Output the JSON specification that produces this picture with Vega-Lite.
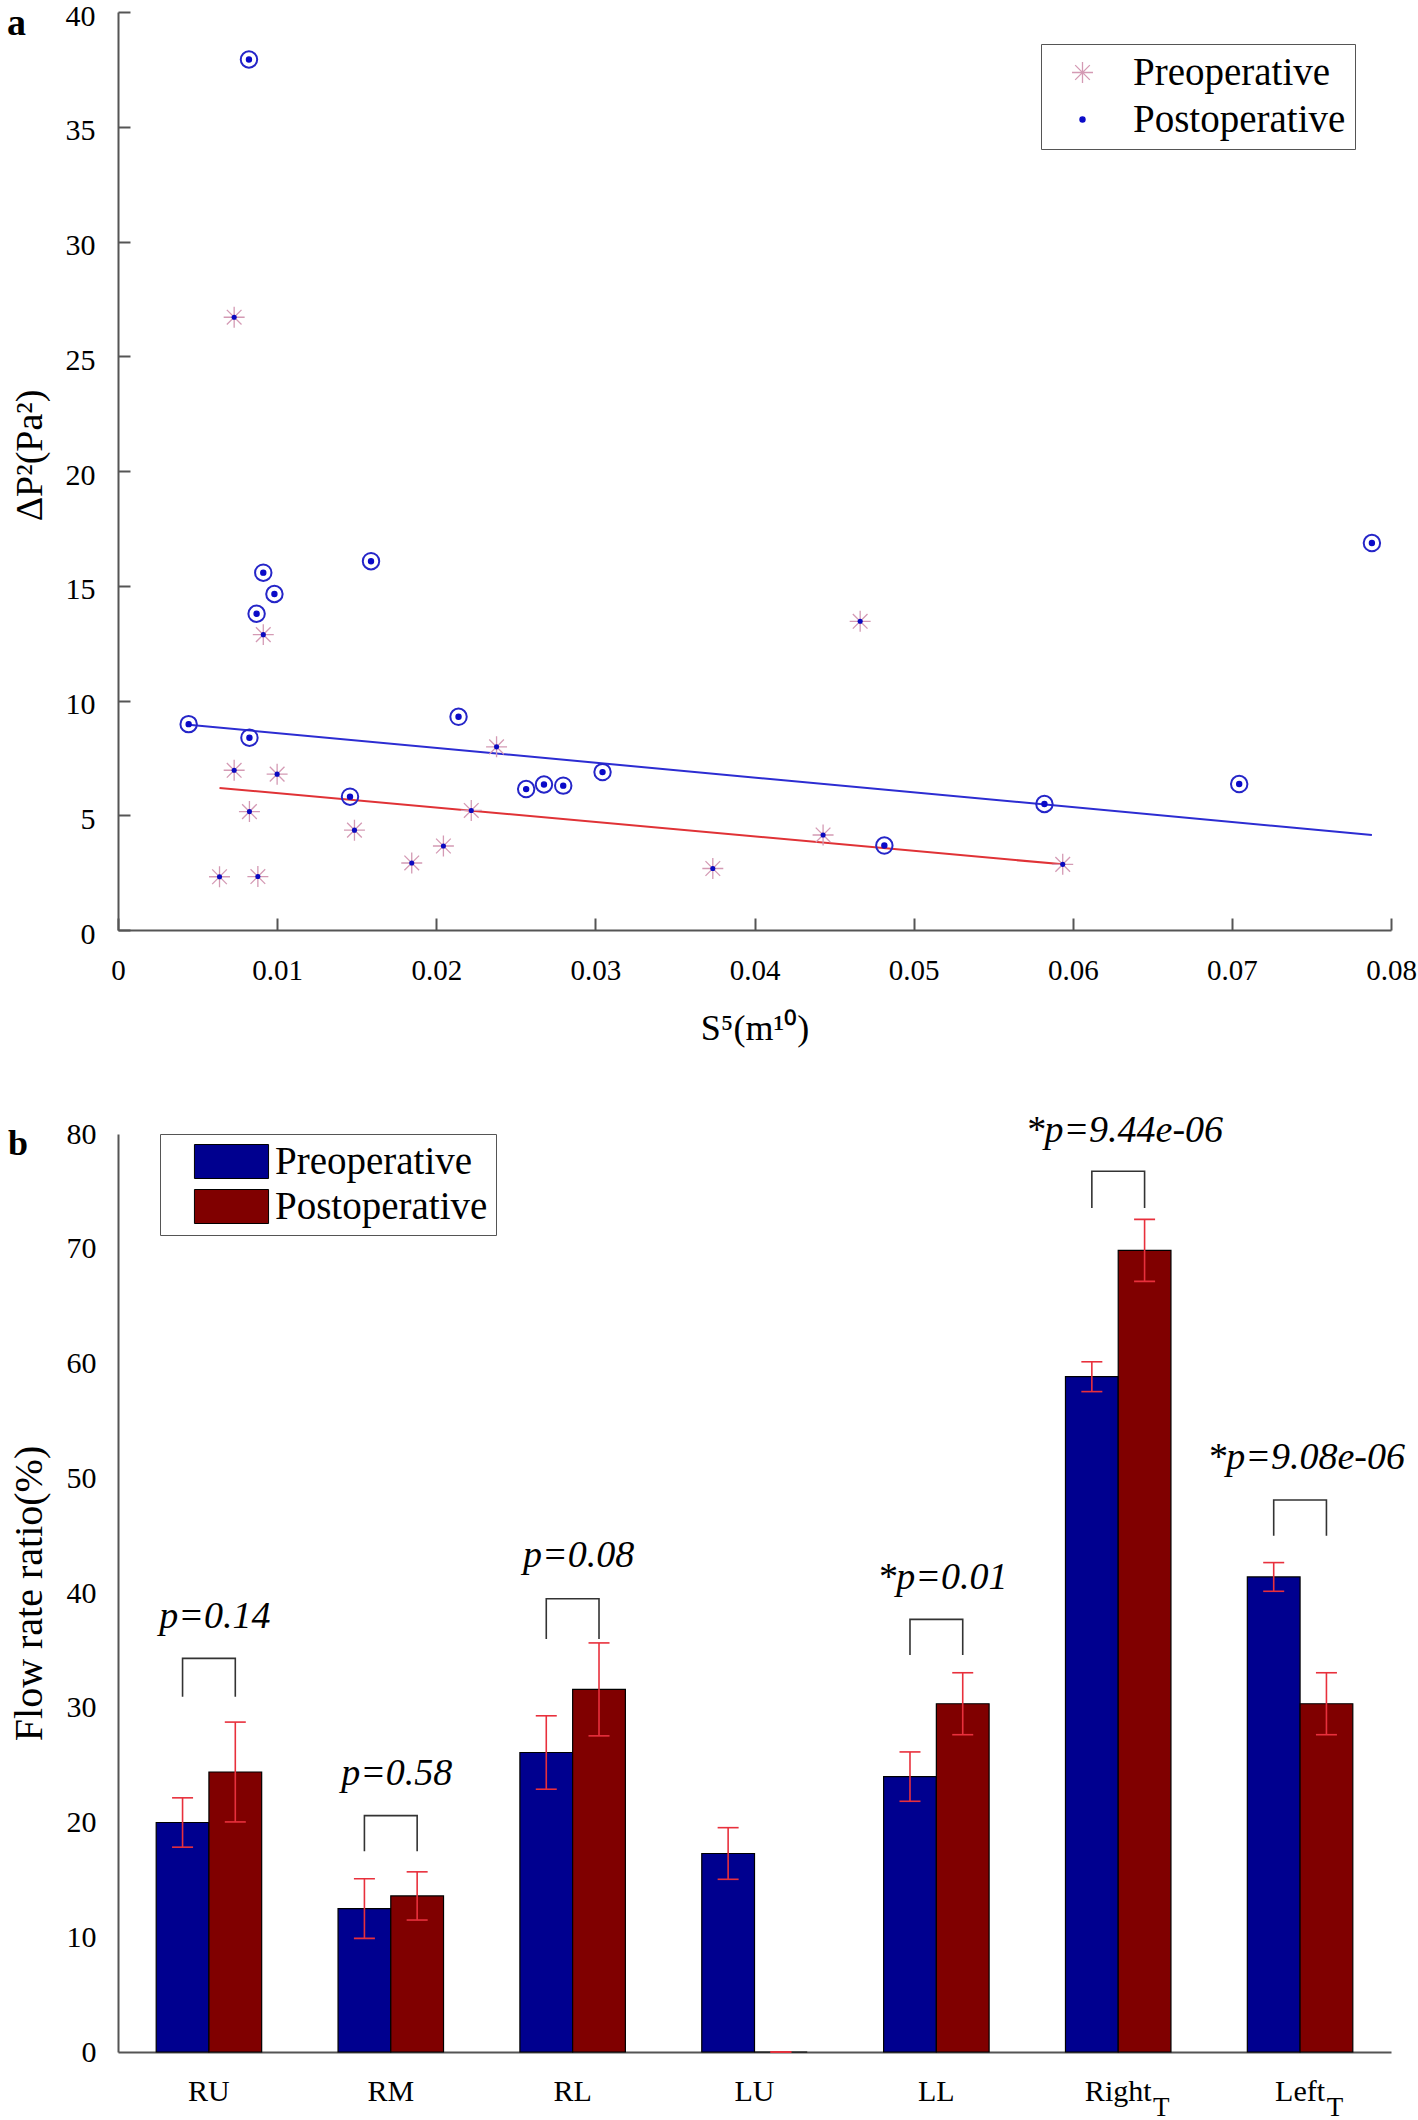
{
  "$schema": "https://vega.github.io/schema/vega-lite/v6.json",
  "background": "white",
  "autosize": {"type": "pad"},
  "padding": {"left": 7, "top": 1, "right": 5, "bottom": 14},
  "bounds": "flush",
  "spacing": 204,
  "config": {
    "font": "Liberation Serif",
    "view": {"stroke": null},
    "axis": {
      "domainColor": "#555", "domainWidth": 2, "tickColor": "#555", "tickWidth": 2,
      "labelColor": "black", "titleColor": "black", "grid": false,
      "labelFont": "Liberation Serif", "titleFont": "Liberation Serif", "titleFontWeight": "normal"
    },
    "legend": {"labelFont": "Liberation Serif", "labelColor": "black", "labelLimit": 500}
  },
  "resolve": {
    "scale": {"color": "independent", "fill": "independent", "stroke": "independent", "shape": "independent", "size": "independent"},
    "legend": {"color": "independent", "fill": "independent", "stroke": "independent", "shape": "independent", "size": "independent"}
  },
  "vconcat": [
    {
      "width": 1273,
      "height": 918,
      "title": {"text": "a", "anchor": "start", "frame": "group", "orient": "top", "offset": 0, "baseline": "alphabetic", "dx": -111, "dy": 72, "fontSize": 38, "fontWeight": "bold", "font": "Liberation Serif", "color": "black"},
      "data": {"values": [
        {"s5": 0.0073, "dp2": 26.7, "group": "Preoperative"},
        {"s5": 0.00913, "dp2": 12.87, "group": "Preoperative"},
        {"s5": 0.0073, "dp2": 6.96, "group": "Preoperative"},
        {"s5": 0.0100, "dp2": 6.79, "group": "Preoperative"},
        {"s5": 0.00826, "dp2": 5.16, "group": "Preoperative"},
        {"s5": 0.01486, "dp2": 4.35, "group": "Preoperative"},
        {"s5": 0.00638, "dp2": 2.32, "group": "Preoperative"},
        {"s5": 0.00879, "dp2": 2.33, "group": "Preoperative"},
        {"s5": 0.01846, "dp2": 2.92, "group": "Preoperative"},
        {"s5": 0.02045, "dp2": 3.66, "group": "Preoperative"},
        {"s5": 0.0222, "dp2": 5.21, "group": "Preoperative"},
        {"s5": 0.02379, "dp2": 7.98, "group": "Preoperative"},
        {"s5": 0.04664, "dp2": 13.45, "group": "Preoperative"},
        {"s5": 0.04431, "dp2": 4.14, "group": "Preoperative"},
        {"s5": 0.03738, "dp2": 2.68, "group": "Preoperative"},
        {"s5": 0.05937, "dp2": 2.86, "group": "Preoperative"},
        {"s5": 0.00823, "dp2": 37.93, "group": "Postoperative"},
        {"s5": 0.00913, "dp2": 15.57, "group": "Postoperative"},
        {"s5": 0.00983, "dp2": 14.64, "group": "Postoperative"},
        {"s5": 0.00871, "dp2": 13.78, "group": "Postoperative"},
        {"s5": 0.0159, "dp2": 16.07, "group": "Postoperative"},
        {"s5": 0.00444, "dp2": 8.97, "group": "Postoperative"},
        {"s5": 0.00826, "dp2": 8.38, "group": "Postoperative"},
        {"s5": 0.0214, "dp2": 9.29, "group": "Postoperative"},
        {"s5": 0.01458, "dp2": 5.81, "group": "Postoperative"},
        {"s5": 0.02565, "dp2": 6.14, "group": "Postoperative"},
        {"s5": 0.02677, "dp2": 6.34, "group": "Postoperative"},
        {"s5": 0.02798, "dp2": 6.29, "group": "Postoperative"},
        {"s5": 0.03045, "dp2": 6.88, "group": "Postoperative"},
        {"s5": 0.0788, "dp2": 16.86, "group": "Postoperative"},
        {"s5": 0.07046, "dp2": 6.36, "group": "Postoperative"},
        {"s5": 0.05822, "dp2": 5.49, "group": "Postoperative"},
        {"s5": 0.04816, "dp2": 3.68, "group": "Postoperative"}
      ]},
      "encoding": {
        "x": {"field": "s5", "type": "quantitative",
          "scale": {"domain": [0, 0.08], "nice": false, "zero": false},
          "axis": {"title": "S⁵(m¹⁰)", "values": [0, 0.01, 0.02, 0.03, 0.04, 0.05, 0.06, 0.07, 0.08], "format": ".2~f", "tickSize": -12, "labelPadding": 38, "labelFont": "Liberation Serif", "labelFontSize": 29, "titleFontSize": 36, "titlePadding": 26, "labelFlush": false}},
        "y": {"field": "dp2", "type": "quantitative",
          "scale": {"domain": [0, 40], "nice": false},
          "axis": {"title": "ΔP²(Pa²)", "values": [0, 5, 10, 15, 20, 25, 30, 35, 40], "tickSize": -12, "labelPadding": 35, "labelOffset": 4, "labelFont": "Liberation Serif", "labelFontSize": 30, "titleFontSize": 38, "titlePadding": 16, "titleY": 443}}
      },
      "layer": [
        {
          "data": {"values": [{"s5": 0.00444, "dp2": 8.94}, {"s5": 0.0788, "dp2": 4.14}]},
          "mark": {"type": "line", "color": "#2c2cd2", "strokeWidth": 2}
        },
        {
          "data": {"values": [{"s5": 0.00638, "dp2": 6.19}, {"s5": 0.05937, "dp2": 2.86}]},
          "mark": {"type": "line", "color": "#e03236", "strokeWidth": 2}
        },
        {
          "mark": {"type": "point", "strokeWidth": 1.3, "opacity": 1},
          "encoding": {
            "shape": {"field": "group", "type": "nominal",
              "scale": {"domain": ["Preoperative", "Postoperative"], "range": ["M-1,0L1,0M0,-1L0,1M-0.7,-0.7L0.7,0.7M-0.7,0.7L0.7,-0.7", "circle"]},
              "legend": {"title": null, "orient": "none", "legendX": 923, "legendY": 32, "padding": 9, "strokeColor": "#555", "fillColor": "white", "labelFontSize": 39, "symbolOffset": 13, "labelOffset": 31, "rowPadding": 7, "symbolStrokeWidth": 1.3}},
            "fill": {"field": "group", "type": "nominal",
              "scale": {"domain": ["Preoperative", "Postoperative"], "range": ["transparent", "#0a0ac8"]}},
            "stroke": {"field": "group", "type": "nominal",
              "scale": {"domain": ["Preoperative", "Postoperative"], "range": ["#d49ab4", "#0a0ac8"]}},
            "size": {"field": "group", "type": "nominal",
              "scale": {"type": "ordinal", "domain": ["Preoperative", "Postoperative"], "range": [440, 26]}}
          }
        },
        {
          "transform": [{"filter": "datum.group == 'Postoperative'"}],
          "mark": {"type": "point", "shape": "circle", "filled": false, "color": "#2525c8", "strokeWidth": 2, "size": 270, "opacity": 1}
        },
        {
          "transform": [{"filter": "datum.group == 'Preoperative'"}],
          "mark": {"type": "point", "shape": "circle", "filled": true, "color": "#0a0ac0", "size": 26, "opacity": 1}
        }
      ]
    },
    {
      "width": 1273,
      "height": 918,
      "title": {"text": "b", "anchor": "start", "frame": "group", "orient": "top", "offset": 0, "baseline": "alphabetic", "dx": -110, "dy": 79, "fontSize": 36, "fontWeight": "bold", "font": "Liberation Serif", "color": "black"},
      "data": {"values": [
        {"region": "RU", "group": "Preoperative", "value": 20.0, "lo": 17.85, "hi": 22.15},
        {"region": "RU", "group": "Postoperative", "value": 24.4, "lo": 20.05, "hi": 28.75},
        {"region": "RM", "group": "Preoperative", "value": 12.5, "lo": 9.9, "hi": 15.1},
        {"region": "RM", "group": "Postoperative", "value": 13.6, "lo": 11.5, "hi": 15.7},
        {"region": "RL", "group": "Preoperative", "value": 26.1, "lo": 22.9, "hi": 29.3},
        {"region": "RL", "group": "Postoperative", "value": 31.6, "lo": 27.55, "hi": 35.65},
        {"region": "LU", "group": "Preoperative", "value": 17.3, "lo": 15.05, "hi": 19.55},
        {"region": "LU", "group": "Postoperative", "value": 0, "lo": 0, "hi": 0},
        {"region": "LL", "group": "Preoperative", "value": 24.0, "lo": 21.85, "hi": 26.15},
        {"region": "LL", "group": "Postoperative", "value": 30.35, "lo": 27.65, "hi": 33.05},
        {"region": "Right_T", "group": "Preoperative", "value": 58.85, "lo": 57.55, "hi": 60.15},
        {"region": "Right_T", "group": "Postoperative", "value": 69.86, "lo": 67.16, "hi": 72.56},
        {"region": "Left_T", "group": "Preoperative", "value": 41.4, "lo": 40.15, "hi": 42.65},
        {"region": "Left_T", "group": "Postoperative", "value": 30.35, "lo": 27.65, "hi": 33.05}
      ]},
      "layer": [
        {
          "mark": {"type": "bar", "stroke": "black", "strokeWidth": 1.2},
          "encoding": {
            "x": {"field": "region", "type": "nominal",
              "scale": {"domain": ["RU", "RM", "RL", "LU", "LL", "Right_T", "Left_T"], "paddingInner": 0.42, "paddingOuter": 0.21},
              "axis": {"title": null, "labelAngle": 0, "ticks": false, "labelPadding": 24, "labelFont": "Liberation Serif", "labelFontSize": 30,
                "labelExpr": "datum.value == 'Right_T' ? 'Right' : datum.value == 'Left_T' ? 'Left' : datum.value"}},
            "xOffset": {"field": "group", "type": "nominal", "scale": {"domain": ["Preoperative", "Postoperative"], "paddingInner": 0, "paddingOuter": 0}},
            "y": {"field": "value", "type": "quantitative",
              "scale": {"domain": [0, 80], "nice": false},
              "axis": {"title": "Flow rate ratio(%)", "values": [0, 10, 20, 30, 40, 50, 60, 70, 80], "ticks": false, "labelPadding": 22, "labelFont": "Liberation Serif", "labelFontSize": 30, "titleFontSize": 40, "titlePadding": 17}},
            "color": {"field": "group", "type": "nominal",
              "scale": {"domain": ["Preoperative", "Postoperative"], "range": ["#00008f", "#800000"]},
              "legend": {"title": null, "orient": "none", "legendX": 42, "legendY": 0, "padding": 8, "strokeColor": "#555", "fillColor": "white",
                "symbolType": "M-2.18,-1L2.18,-1L2.18,1L-2.18,1Z", "symbolSize": 1156, "symbolStrokeColor": "black", "symbolStrokeWidth": 1,
                "symbolOffset": 44, "labelOffset": 24, "rowPadding": 5, "labelFontSize": 39}}
          }
        },
        {
          "mark": {"type": "rule", "color": "#e8303c", "strokeWidth": 1.6},
          "encoding": {
            "x": {"field": "region", "type": "nominal"},
            "xOffset": {"field": "group", "type": "nominal"},
            "y": {"field": "lo", "type": "quantitative"},
            "y2": {"field": "hi"}
          }
        },
        {
          "mark": {"type": "tick", "color": "#e8303c", "thickness": 1.6, "size": 21, "opacity": 1},
          "encoding": {
            "x": {"field": "region", "type": "nominal"},
            "xOffset": {"field": "group", "type": "nominal"},
            "y": {"field": "lo", "type": "quantitative"}
          }
        },
        {
          "mark": {"type": "tick", "color": "#e8303c", "thickness": 1.6, "size": 21, "opacity": 1},
          "encoding": {
            "x": {"field": "region", "type": "nominal"},
            "xOffset": {"field": "group", "type": "nominal"},
            "y": {"field": "hi", "type": "quantitative"}
          }
        },
        {
          "data": {"values": [
            {"region": "RU", "group": "Preoperative", "y": 30.95, "ord": 1},
            {"region": "RU", "group": "Preoperative", "y": 34.3, "ord": 2},
            {"region": "RU", "group": "Postoperative", "y": 34.3, "ord": 3},
            {"region": "RU", "group": "Postoperative", "y": 30.95, "ord": 4},
            {"region": "RM", "group": "Preoperative", "y": 17.5, "ord": 1},
            {"region": "RM", "group": "Preoperative", "y": 20.6, "ord": 2},
            {"region": "RM", "group": "Postoperative", "y": 20.6, "ord": 3},
            {"region": "RM", "group": "Postoperative", "y": 17.5, "ord": 4},
            {"region": "RL", "group": "Preoperative", "y": 36.0, "ord": 1},
            {"region": "RL", "group": "Preoperative", "y": 39.5, "ord": 2},
            {"region": "RL", "group": "Postoperative", "y": 39.5, "ord": 3},
            {"region": "RL", "group": "Postoperative", "y": 36.0, "ord": 4},
            {"region": "LL", "group": "Preoperative", "y": 34.6, "ord": 1},
            {"region": "LL", "group": "Preoperative", "y": 37.7, "ord": 2},
            {"region": "LL", "group": "Postoperative", "y": 37.7, "ord": 3},
            {"region": "LL", "group": "Postoperative", "y": 34.6, "ord": 4},
            {"region": "Right_T", "group": "Preoperative", "y": 73.55, "ord": 1},
            {"region": "Right_T", "group": "Preoperative", "y": 76.75, "ord": 2},
            {"region": "Right_T", "group": "Postoperative", "y": 76.75, "ord": 3},
            {"region": "Right_T", "group": "Postoperative", "y": 73.55, "ord": 4},
            {"region": "Left_T", "group": "Preoperative", "y": 45.0, "ord": 1},
            {"region": "Left_T", "group": "Preoperative", "y": 48.1, "ord": 2},
            {"region": "Left_T", "group": "Postoperative", "y": 48.1, "ord": 3},
            {"region": "Left_T", "group": "Postoperative", "y": 45.0, "ord": 4}
          ]},
          "mark": {"type": "line", "color": "#333333", "strokeWidth": 1.6},
          "encoding": {
            "x": {"field": "region", "type": "nominal"},
            "xOffset": {"field": "group", "type": "nominal"},
            "y": {"field": "y", "type": "quantitative"},
            "detail": {"field": "region", "type": "nominal"},
            "order": {"field": "ord", "type": "quantitative"}
          }
        },
        {
          "data": {"values": [
            {"region": "RU", "y": 37.9, "label": "p=0.14"},
            {"region": "RM", "y": 24.2, "label": "p=0.58"},
            {"region": "RL", "y": 43.2, "label": "p=0.08"},
            {"region": "LL", "y": 41.35, "label": "*p=0.01"},
            {"region": "Right_T", "y": 80.3, "label": "*p=9.44e-06"},
            {"region": "Left_T", "y": 51.8, "label": "*p=9.08e-06"}
          ]},
          "mark": {"type": "text", "font": "Liberation Serif", "fontStyle": "italic", "fontSize": 38, "baseline": "middle", "align": "center", "color": "black", "dx": 6},
          "encoding": {
            "x": {"field": "region", "type": "nominal"},
            "y": {"field": "y", "type": "quantitative"},
            "text": {"field": "label", "type": "nominal"}
          }
        },
        {
          "data": {"values": [{"region": "Right_T", "sub": "T", "y": 0}]},
          "mark": {"type": "text", "font": "Liberation Serif", "fontSize": 27, "baseline": "middle", "align": "center", "color": "black", "dx": 43, "dy": 56},
          "encoding": {
            "x": {"field": "region", "type": "nominal"},
            "y": {"field": "y", "type": "quantitative"},
            "text": {"field": "sub", "type": "nominal"}
          }
        },
        {
          "data": {"values": [{"region": "Left_T", "sub": "T", "y": 0}]},
          "mark": {"type": "text", "font": "Liberation Serif", "fontSize": 27, "baseline": "middle", "align": "center", "color": "black", "dx": 35, "dy": 56},
          "encoding": {
            "x": {"field": "region", "type": "nominal"},
            "y": {"field": "y", "type": "quantitative"},
            "text": {"field": "sub", "type": "nominal"}
          }
        }
      ]
    }
  ]
}
